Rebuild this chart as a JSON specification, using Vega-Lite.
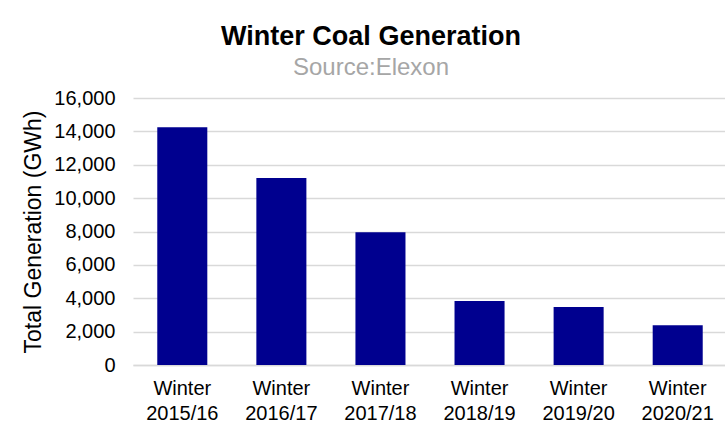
{
  "$schema": "https://vega.github.io/schema/vega-lite/v6.json",
  "autosize": "none",
  "width": 594,
  "height": 267,
  "padding": {"left": 133, "top": 98, "right": 0, "bottom": 71},
  "background": "white",
  "title": {
    "text": "Winter Coal Generation",
    "subtitle": "Source:Elexon",
    "anchor": "middle",
    "frame": "group",
    "dx": -59,
    "offset": 7,
    "font": "Liberation Sans",
    "fontSize": 27,
    "fontWeight": "bold",
    "color": "#000000",
    "subtitleFont": "Liberation Sans",
    "subtitleFontSize": 24,
    "subtitleColor": "#a6a6a6",
    "subtitlePadding": 5
  },
  "data": {
    "values": [
      {"season": "Winter 2015/16", "gen": 14250},
      {"season": "Winter 2016/17", "gen": 11200},
      {"season": "Winter 2017/18", "gen": 7950},
      {"season": "Winter 2018/19", "gen": 3830},
      {"season": "Winter 2019/20", "gen": 3470},
      {"season": "Winter 2020/21", "gen": 2380}
    ]
  },
  "mark": {"type": "bar", "color": "#00008f"},
  "encoding": {
    "x": {
      "field": "season",
      "type": "nominal",
      "sort": null,
      "scale": {"paddingInner": 0.495, "paddingOuter": 0.245},
      "axis": {
        "title": null,
        "labelAngle": 0,
        "labelExpr": "split(datum.label, ' ')",
        "labelLineHeight": 25,
        "labelFont": "Liberation Sans",
        "labelFontSize": 20,
        "labelColor": "#000000",
        "labelPadding": 13,
        "ticks": false,
        "domainColor": "#d9d9d9",
        "domainWidth": 1.5
      }
    },
    "y": {
      "field": "gen",
      "type": "quantitative",
      "scale": {"domain": [0, 16000]},
      "axis": {
        "title": "Total Generation (GWh)",
        "titleFont": "Liberation Sans",
        "titleFontSize": 23,
        "titleFontWeight": "normal",
        "titleColor": "#000000",
        "titlePadding": 8,
        "values": [0, 2000, 4000, 6000, 8000, 10000, 12000, 14000, 16000],
        "format": ",.0f",
        "labelFont": "Liberation Sans",
        "labelFontSize": 20,
        "labelColor": "#000000",
        "labelPadding": 18,
        "ticks": false,
        "domain": false,
        "gridColor": "#d9d9d9",
        "gridWidth": 1.5
      }
    }
  },
  "config": {"view": {"stroke": null}}
}
